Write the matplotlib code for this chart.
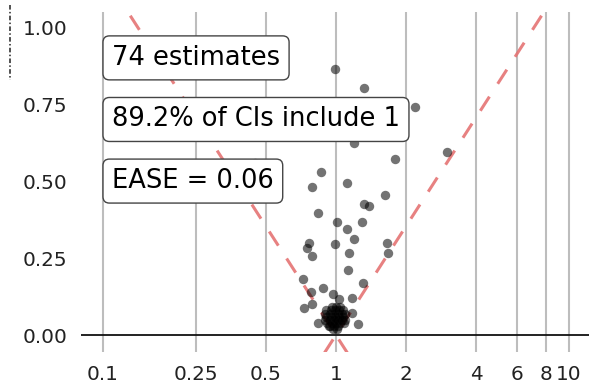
import numpy as np
import matplotlib
matplotlib.use("Agg")
import matplotlib.pyplot as plt
from matplotlib.lines import Line2D

# estimaciones (odds ratio, error estandar)
odds_ratio = [0.99, 1.32, 2.18, 1.19, 3.01, 1.79, 0.86, 0.79, 1.12, 1.62,
              1.32, 1.39, 0.84, 1.01, 1.30, 1.12, 1.20, 0.77, 0.75, 0.79,
              0.99, 1.14, 1.65, 1.68, 1.13, 0.72, 1.31, 0.78, 0.88, 0.97,
              1.03, 1.17, 0.79, 0.73, 1.17, 1.25, 0.84, 0.93, 0.45]
std_error = [0.863, 0.801, 0.739, 0.625, 0.593, 0.573, 0.528, 0.482, 0.495, 0.456,
             0.427, 0.420, 0.397, 0.368, 0.368, 0.345, 0.313, 0.300, 0.283, 0.257,
             0.296, 0.267, 0.300, 0.267, 0.212, 0.182, 0.169, 0.140, 0.153, 0.134,
             0.117, 0.121, 0.101, 0.088, 0.072, 0.036, 0.039, 0.029, 0.560]

# nube densa alrededor de OR = 1
blob_or = [0.96, 1.00, 1.04,
           0.91, 0.95, 0.99, 1.03, 1.07,
           0.90, 0.94, 0.98, 1.02, 1.06, 1.09,
           0.91, 0.95, 0.99, 1.03, 1.07,
           0.90, 0.94, 0.98, 1.02, 1.06, 1.09,
           0.92, 0.96, 1.00, 1.04, 1.08,
           0.94, 0.98, 1.02,
           0.97, 1.01]
blob_se = [0.09] * 3 + [0.08] * 5 + [0.07] * 6 + [0.06] * 5 + [0.05] * 6 + \
          [0.04] * 5 + [0.03] * 3 + [0.02] * 2

x_ticks = [0.1, 0.25, 0.5, 1, 2, 4, 6, 8, 10]
x_tick_labels = ["0.1", "0.25", "0.5", "1", "2", "4", "6", "8", "10"]
y_ticks = [0.0, 0.25, 0.5, 0.75, 1.0]
y_tick_labels = ["0.00", "0.25", "0.50", "0.75", "1.00"]

etiquetas = ["74 estimates", "89.2% of CIs include 1", "EASE = 0.06"]
etiquetas_y = [0.9, 0.7, 0.5]

fig = plt.figure(figsize=(5.89, 3.89), dpi=100)
ax = fig.add_axes([81 / 589, 1 - 352 / 389, 1 - 81 / 589, 340 / 389])

ax.set_xscale("log")
ax.set_xlim(0.0805, 12.2)
ax.set_ylim(-0.055, 1.049)

for xt in x_ticks:
    ax.axvline(xt, color="#bdbdbd", lw=1.5, zorder=0)
ax.axhline(0, color="#111111", lw=1.3, zorder=1)

# embudo: OR = exp(+-1.96 * SE)
se_line = np.linspace(-0.06, 1.06, 200)
for signo in (-1, 1):
    ax.plot(np.exp(signo * 1.96 * se_line), se_line, color="#e57373",
            lw=2.2, dashes=(5.5, 5), alpha=0.9, zorder=2)

ax.scatter(odds_ratio + blob_or, std_error + blob_se, s=46, color="black",
           alpha=0.55, linewidths=0, zorder=3)

for txt, yy in zip(etiquetas, etiquetas_y):
    ax.annotate(txt, xy=(0.1, yy), xytext=(6.5, 0), textcoords="offset points",
                ha="left", va="center", fontsize=18.5, color="black", zorder=5,
                bbox=dict(boxstyle="round,pad=0.35,rounding_size=0.25",
                          fc="white", ec="#444444", lw=1.0))

ax.set_xticks(x_ticks)
ax.set_xticklabels(x_tick_labels)
ax.minorticks_off()
ax.set_yticks(y_ticks)
ax.set_yticklabels(y_tick_labels)
ax.tick_params(length=0, labelsize=14.4, labelcolor="#222222")
ax.tick_params(axis="x", pad=9)
ax.tick_params(axis="y", pad=10)
for s in ax.spines.values():
    s.set_visible(False)

# resto de la etiqueta del eje recortada a la izquierda
fig.add_artist(Line2D([10 / 589, 10 / 589], [1 - 5 / 389, 1 - 80 / 389],
                      color="#222222", lw=1.1, ls=(0, (3, 1.5, 1, 1.5))))

fig.savefig("out.png", dpi=100)
